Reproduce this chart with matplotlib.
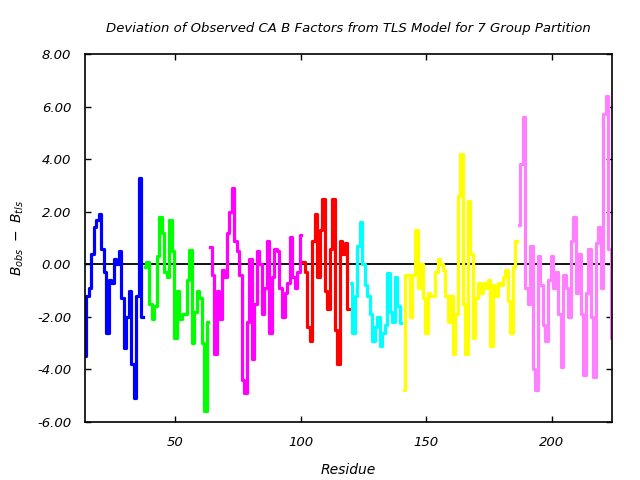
import matplotlib
matplotlib.use("Agg")
import matplotlib.pyplot as plt
import numpy as np

# TLS groups: first residue of each group, deviation values per residue, colour
group_starts = [14, 38, 64, 101, 120, 141, 187]
group_colors = ["#0000ff", "#00ff00", "#ff00ff", "#ff0000", "#00ffff", "#ffff00", "#ff80ff"]

blue_vals = [-3.5, -1.2, -0.9, 0.4, 1.4, 1.7, 1.9, 0.6, -0.3, -2.6, -0.6, -0.7,
             0.2, 0.0, 0.5, -1.3, -3.2, -2.0, -1.0, -3.8, -5.1, -1.2, 3.3, -2.0]
green_vals = [-0.1, 0.1, -1.5, -2.1, -1.6, 0.3, 1.8, 1.2, -0.3, -0.5, 1.7, 0.5,
              -2.8, -1.0, -2.1, -1.9, -1.9, -0.6, 0.55, -3.0, -1.8, -1.0, -1.3,
              -3.0, -5.6, -2.2]
magenta_vals = [0.65, -0.4, -3.4, -1.0, -2.1, -0.2, -0.5, 1.2, 2.0, 2.9, 0.9, 0.5,
                -0.4, -4.4, -4.9, -2.2, 0.2, -3.6, -1.5, 0.5, 0.0, -1.9, -0.9, 0.9,
                -2.6, -0.5, 0.6, 0.5, -0.9, -2.0, -1.1, -0.7, 1.05, -0.5, -0.9,
                -0.3, 1.1]
red_vals = [0.1, -0.3, -2.4, -2.9, 0.9, 1.9, -0.5, 1.3, 2.5, -1.0, -1.7, 0.6, 2.5,
            -2.5, -3.8, 0.9, 0.4, 0.8, -1.7]
cyan_vals = [-0.7, -2.6, -1.2, 0.7, 1.6, 0.0, -0.8, -1.2, -1.9, -2.9, -2.4, -2.0,
             -3.1, -2.6, -2.3, -0.35, -1.8, -2.2, -0.5, -1.6, -2.25]
yellow_vals = [-4.8, -0.4, -0.4, -2.0, -0.4, 1.3, -0.9, 0.0, -1.3, -2.6, -1.1,
               -1.2, -1.2, -0.3, 0.2, 0.0, -0.2, -1.2, -2.2, -1.2, -3.4, -1.9,
               2.6, 4.2, -1.5, -3.4, 2.4, 0.4, -2.8, -1.3, -0.7, -1.1, -0.7, -0.9,
               -0.6, -3.1, -0.8, -1.2, -0.7, -0.8, -0.5, -0.2, -1.4, -2.6, -0.1,
               0.9]
violet_vals = [1.5, 3.8, 5.6, -0.9, -1.5, 0.7, -4.0, -4.8, 0.3, -0.8, -2.3, -2.9,
               -0.6, 0.3, -0.9, -0.3, -1.9, -3.9, -0.4, -0.9, -2.0, 0.9, 1.8, -1.1,
               0.4, -1.9, -4.2, -1.1, 0.6, -2.0, -4.3, 0.8, 1.4, -0.9, 5.7, 6.4,
               0.6, -2.8]

groups = [blue_vals, green_vals, magenta_vals, red_vals, cyan_vals, yellow_vals, violet_vals]

yticks = [-6, -4, -2, 0, 2, 4, 6, 8]
xticks = [50, 100, 150, 200]

fig = plt.figure(figsize=(6.4, 4.8), dpi=100)
ax = fig.add_axes([85 / 640, 58 / 480, 527 / 640, 368 / 480])

ax.axhline(0, color="black", lw=1.3, zorder=1)

for start, vals, col in zip(group_starts, groups, group_colors):
    res = np.arange(start, start + len(vals))
    ax.plot(res, vals, drawstyle="steps-mid", color=col, lw=2.3, zorder=2)

ax.set_xlim(14, 224)
ax.set_ylim(-6, 8)
ax.set_xticks(xticks)
ax.set_yticks(yticks)
ax.set_yticklabels([f"{v:.2f}" for v in yticks])
ax.tick_params(direction="in", length=4, width=1, top=True, right=True,
               labelsize=9.5, pad=10)
for lab in ax.get_xticklabels() + ax.get_yticklabels():
    lab.set_fontstyle("italic")
for sp in ax.spines.values():
    sp.set_linewidth(1.2)

ax.set_title("Deviation of Observed CA B Factors from TLS Model for 7 Group Partition",
             fontsize=9.5, style="italic", pad=16)
ax.set_xlabel("Residue", fontsize=10, style="italic", labelpad=10)
ax.set_ylabel(r"$B_{obs}\ -\ B_{tls}$", fontsize=10, labelpad=8)

fig.savefig("out.png", dpi=100)
